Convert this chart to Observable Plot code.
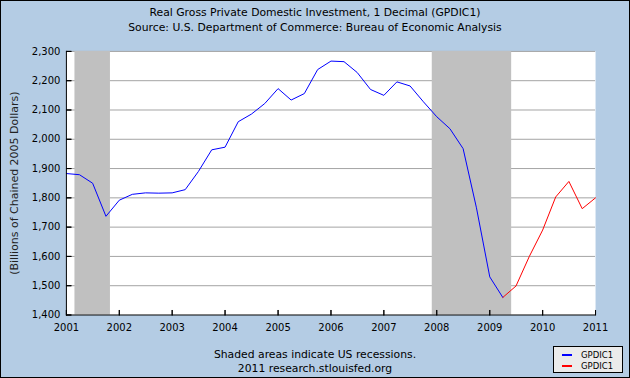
<!DOCTYPE html>
<html>
<head>
<meta charset="utf-8">
<script src="https://cdn.jsdelivr.net/npm/d3@7"></script>
<script src="https://cdn.jsdelivr.net/npm/@observablehq/plot@0.6"></script>
<style>
  html, body { margin: 0; padding: 0; }
  #wrap { position: relative; width: 630px; height: 378px; box-sizing: border-box; border: 1px solid #000; background: #b4cce4; font-family: "DejaVu Sans", Verdana, sans-serif; color: #000; overflow: hidden; }
  #chart { position: absolute; left: -1px; top: -1px; }
  .t { position: absolute; left: 0; width: 628px; text-align: center; font-size: 10.8px; line-height: 14px; }
  #legend { position: absolute; left: 552px; top: 345px; width: 68px; height: 25px; background: #ebebeb; border: 1px solid #000; font-size: 8.5px; }
  .li { position: absolute; left: 8px; height: 10px; line-height: 10px; }
  .li span.sw { display: inline-block; width: 10px; height: 2px; vertical-align: middle; margin-right: 9px; position: relative; top: -1px; }
</style>
</head>
<body>
<div id="wrap">
  <div id="chart"></div>
  <div class="t" style="top:5px">Real Gross Private Domestic Investment, 1 Decimal (GPDIC1)</div>
  <div class="t" style="top:20px">Source: U.S. Department of Commerce: Bureau of Economic Analysis</div>
  <div class="t" style="top:347px">Shaded areas indicate US recessions.</div>
  <div class="t" style="top:361px">2011 research.stlouisfed.org</div>
  <div id="legend">
    <div class="li" style="top:3px"><span class="sw" style="background:#0000ff"></span>GPDIC1</div>
    <div class="li" style="top:14px"><span class="sw" style="background:#ff0000"></span>GPDIC1</div>
  </div>
</div>
<script>
// Data (quarterly, billions of chained 2005 dollars)
const blueStart = "2001-01-01"; // 2001Q1 .. 2009Q2
const blueValues = [
  1883, 1879, 1850, 1737,
  1792, 1812, 1817, 1816,
  1817, 1828, 1890, 1964,
  1973, 2060, 2086, 2122,
  2173, 2134, 2156, 2238,
  2267, 2265, 2228, 2170,
  2150, 2196, 2182, 2128,
  2077, 2036, 1968, 1766,
  1530, 1460
];
const redStart = "2009-04-01"; // 2009Q2 .. 2011Q1
const redValues = [1460, 1499, 1600, 1690, 1803, 1856, 1763, 1800];
const recessionStarts = ["2001-03-01", "2007-12-01"];
const recessionEnds = ["2001-11-01", "2009-06-01"];
const yTicks = [1400, 1500, 1600, 1700, 1800, 1900, 2000, 2100, 2200, 2300];
const xTickYears = [2001, 2002, 2003, 2004, 2005, 2006, 2007, 2008, 2009, 2010, 2011];
const yLabel = "(Billions of Chained 2005 Dollars)";

const toSeries = (start, vals) => vals.map((v, i) => ({date: d3.utcMonth.offset(new Date(start), 3 * i), value: v}));
const blue = toSeries(blueStart, blueValues);
const red = toSeries(redStart, redValues);
const recessions = recessionStarts.map((s, i) => ({start: new Date(s), end: new Date(recessionEnds[i])}));
const xTicks = xTickYears.map(y => new Date(Date.UTC(y, 0, 1)));

const chart = Plot.plot({
  width: 630,
  height: 378,
  marginLeft: 66,
  marginRight: 34,
  marginTop: 51,
  marginBottom: 63,
  style: {background: "transparent", fontFamily: "DejaVu Sans, Verdana, sans-serif", fontSize: "10px", color: "#000", overflow: "visible"},
  x: {type: "utc", domain: [xTicks[0], xTicks[xTicks.length - 1]]},
  y: {domain: [1400, 2300]},
  marks: [
    Plot.frame({fill: "#ffffff", stroke: null}),
    Plot.ruleY(yTicks.slice(1), {stroke: "#a4a4a4", strokeWidth: 1}),
    Plot.rect(recessions, {x1: "start", x2: "end", fill: "#c0c0c0"}),
    Plot.lineY(blue, {x: "date", y: "value", stroke: "#0000ff", strokeWidth: 1}),
    Plot.lineY(red, {x: "date", y: "value", stroke: "#ff0000", strokeWidth: 1}),
    Plot.ruleX([xTicks[0]], {stroke: "#000", strokeWidth: 1}),
    Plot.ruleY([1400], {stroke: "#000", strokeWidth: 1}),
    Plot.vector(yTicks, {y: d => d, frameAnchor: "left", length: 5, rotate: 90, anchor: "start", shape: "spike", r: 0, stroke: "#000", strokeWidth: 1}),
    Plot.vector(xTicks, {x: d => d, frameAnchor: "bottom", length: 5, rotate: 0, anchor: "start", shape: "spike", r: 0, stroke: "#000", strokeWidth: 1}),
    Plot.axisY({ticks: yTicks, tickSize: 0, tickPadding: 6, tickFormat: d3.format(","), label: null}),
    Plot.axisX({ticks: xTicks, tickSize: 0, tickPadding: 9, tickFormat: d3.utcFormat("%Y"), label: null}),
    Plot.text([yLabel], {text: d => d, frameAnchor: "left", dx: -52, dy: 0, rotate: -90, textAnchor: "middle", fontSize: 11, fill: "#222"})
  ]
});
document.getElementById("chart").appendChild(chart);
</script>
</body>
</html>
